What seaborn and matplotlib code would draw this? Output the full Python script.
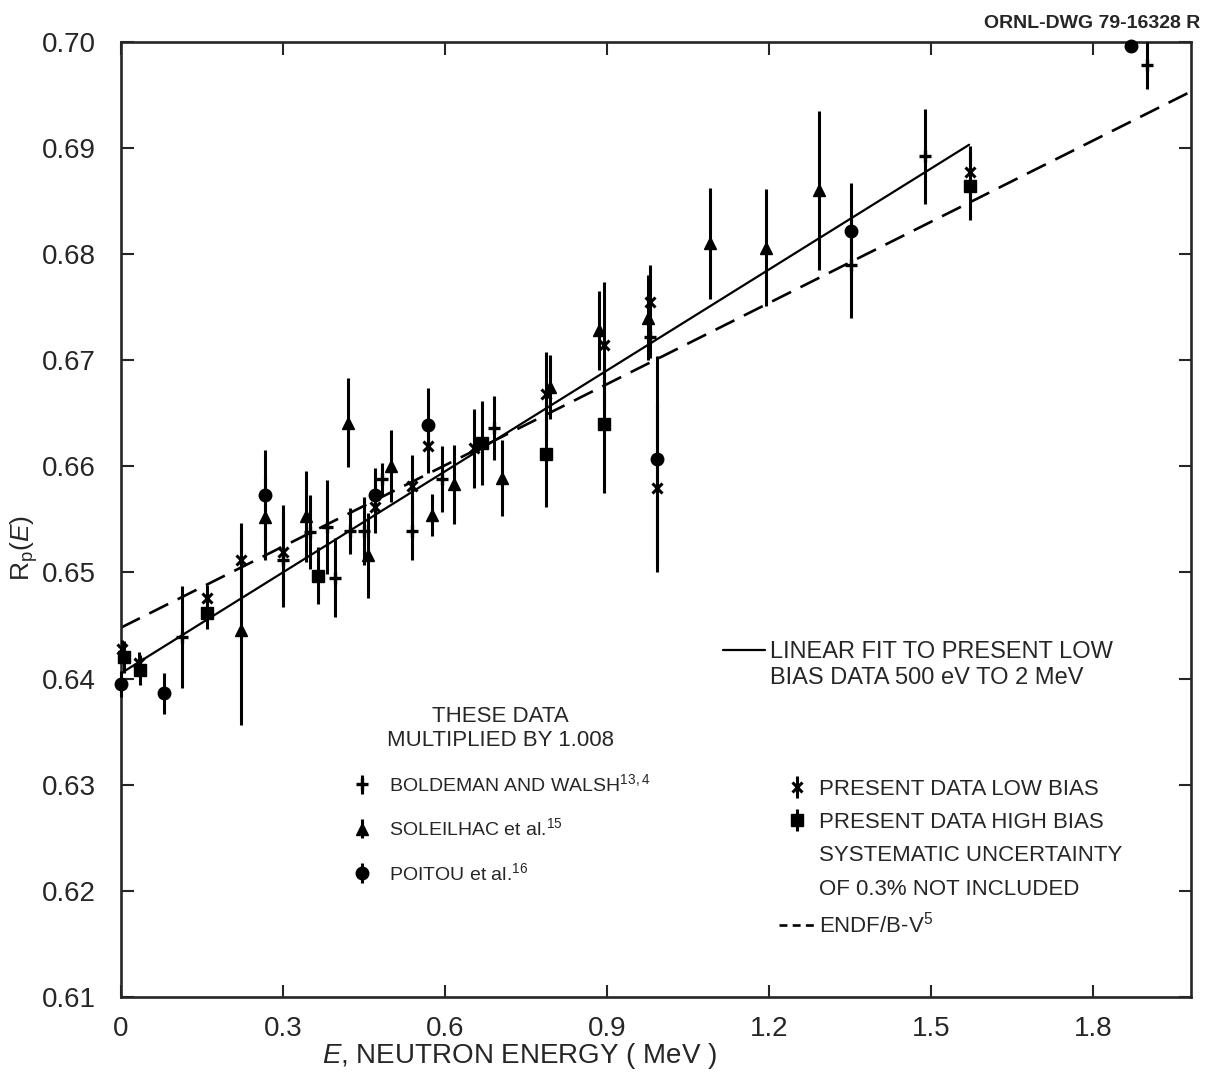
import matplotlib
matplotlib.use("Agg")
import matplotlib.pyplot as plt
from matplotlib.lines import Line2D
import seaborn as sns
import pandas as pd

sns.set_style("ticks")
plt.rcParams["font.family"] = ["Liberation Sans", "DejaVu Sans"]
plt.rcParams["mathtext.fontset"] = "custom"
plt.rcParams["mathtext.rm"] = "Liberation Sans"
plt.rcParams["mathtext.it"] = "Liberation Sans:italic"

# values (E in MeV, Rp, +/- error)
boldeman_e = [0.113, 0.30, 0.35, 0.381, 0.397, 0.423, 0.449, 0.484, 0.538, 0.595, 0.691, 0.98, 1.352, 1.488, 1.90]
boldeman_r = [0.6439, 0.6512, 0.6538, 0.6543, 0.6495, 0.6539, 0.6539, 0.6588, 0.6539, 0.6588, 0.6636, 0.6722, 0.6790, 0.6892, 0.6978]
boldeman_err = [0.0048, 0.0045, 0.0035, 0.0044, 0.0037, 0.0022, 0.0032, 0.0015, 0.0027, 0.0031, 0.0030, 0.0020, 0.0050, 0.0045, 0.0022]

soleilhac_e = [0.222, 0.266, 0.342, 0.42, 0.457, 0.499, 0.575, 0.616, 0.706, 0.795, 0.885, 0.975, 1.091, 1.194, 1.292]
soleilhac_r = [0.6446, 0.6552, 0.6553, 0.6641, 0.6516, 0.6600, 0.6554, 0.6583, 0.6589, 0.6675, 0.6728, 0.6740, 0.6810, 0.6806, 0.6860]
soleilhac_err = [0.0090, 0.0040, 0.0043, 0.0042, 0.0040, 0.0034, 0.0020, 0.0037, 0.0036, 0.0030, 0.0037, 0.0040, 0.0052, 0.0055, 0.0075]

poitou_e = [0.0, 0.08, 0.266, 0.47, 0.569, 0.993, 1.352, 1.87]
poitou_r = [0.6395, 0.6386, 0.6573, 0.6573, 0.6639, 0.6607, 0.6822, 0.6996]
poitou_err = [0.0012, 0.0019, 0.0042, 0.0025, 0.0035, 0.0097, 0.0045, 0.0003]

low_e = [0.002, 0.033, 0.16, 0.222, 0.30, 0.47, 0.538, 0.569, 0.654, 0.787, 0.895, 0.98, 0.993, 1.572]
low_r = [0.6428, 0.6415, 0.6476, 0.6512, 0.6519, 0.6562, 0.6581, 0.6619, 0.6617, 0.6668, 0.6714, 0.6755, 0.6580, 0.6877]
low_err = [0.0008, 0.0010, 0.0012, 0.0035, 0.0045, 0.0025, 0.0030, 0.0025, 0.0037, 0.0040, 0.0060, 0.0035, 0.0080, 0.0025]

high_e = [0.006, 0.035, 0.16, 0.364, 0.669, 0.787, 0.895, 1.572]
high_r = [0.6420, 0.6408, 0.6462, 0.6497, 0.6622, 0.6612, 0.6640, 0.6864]
high_err = [0.0015, 0.0014, 0.0015, 0.0027, 0.0040, 0.0050, 0.0065, 0.0032]

fit_e = [0.0, 1.57]
fit_r = [0.6405, 0.6903]
endf_e = [0.0, 1.98]
endf_r = [0.6448, 0.6953]

xticks = [0, 0.3, 0.6, 0.9, 1.2, 1.5, 1.8]
xtick_labels = ["0", "0.3", "0.6", "0.9", "1.2", "1.5", "1.8"]
yticks = [0.61, 0.62, 0.63, 0.64, 0.65, 0.66, 0.67, 0.68, 0.69, 0.70]
ytick_labels = ["0.61", "0.62", "0.63", "0.64", "0.65", "0.66", "0.67", "0.68", "0.69", "0.70"]

fig = plt.figure(figsize=(12.1, 10.72), dpi=100)
ax = fig.add_axes([0.1, 0.07, 0.884, 0.891])

fit_df = pd.DataFrame({"E": fit_e, "R": fit_r})
endf_df = pd.DataFrame({"E": endf_e, "R": endf_r})
sns.lineplot(data=fit_df, x="E", y="R", ax=ax, color="black", lw=1.6)
sns.lineplot(data=endf_df, x="E", y="R", ax=ax, color="black", lw=1.9,
             dashes=False, linestyle=(0, (8, 4)))

ebkw = dict(ls="none", color="black", ecolor="black", elinewidth=2.2,
            capsize=0, clip_on=False, zorder=3)
h_bold = ax.errorbar(boldeman_e, boldeman_r, yerr=boldeman_err, marker="+",
                     ms=8, mew=2.4, **ebkw)
h_sol = ax.errorbar(soleilhac_e, soleilhac_r, yerr=soleilhac_err, marker="^",
                    ms=8, **ebkw)
h_poi = ax.errorbar(poitou_e, poitou_r, yerr=poitou_err, marker="o",
                    ms=9, **ebkw)
h_low = ax.errorbar(low_e, low_r, yerr=low_err, marker="x",
                    ms=7, mew=2.2, **ebkw)
h_high = ax.errorbar(high_e, high_r, yerr=high_err, marker="s",
                     ms=8, **ebkw)

ax.set_xlim(0, 1.98)
ax.set_ylim(0.61, 0.70)
ax.set_xticks(xticks)
ax.set_xticklabels(xtick_labels)
ax.set_yticks(yticks)
ax.set_yticklabels(ytick_labels)
ax.tick_params(axis="both", direction="in", top=True, right=True,
               length=9, width=1.5, labelsize=20)
ax.tick_params(axis="y", pad=18)
ax.tick_params(axis="x", pad=14)
for s in ax.spines.values():
    s.set_linewidth(1.9)

ax.set_xlabel("$E$, NEUTRON ENERGY ( MeV )", fontsize=20)
ax.xaxis.set_label_coords(0.373, -0.046)
ax.set_ylabel("R$_\\mathrm{p}$($E$)", fontsize=19)
ax.yaxis.set_label_coords(-0.076, 0.47)

fig.text(0.992, 0.978, "ORNL-DWG 79-16328 R", ha="right", va="center",
         fontsize=14, fontweight="bold")

blank = Line2D([], [], ls="none")
lw_fit = Line2D([], [], color="black", lw=1.6)
lw_endf = Line2D([], [], color="black", lw=1.9, ls=(0, (3, 2)))

leg_a = ax.legend([h_bold, h_sol, h_poi],
                  ["BOLDEMAN AND WALSH$^{13,4}$", "SOLEILHAC et al.$^{15}$",
                   "POITOU et al.$^{16}$"],
                  title="THESE DATA\nMULTIPLIED BY 1.008",
                  loc="upper center", bbox_to_anchor=(0.355, 0.315),
                  frameon=False, fontsize=14, title_fontsize=16,
                  handlelength=1.2, handletextpad=0.8, labelspacing=1.15,
                  borderpad=0)
leg_a.get_title().set_multialignment("center")
ax.add_artist(leg_a)

leg_b = ax.legend([h_low, h_high, blank, blank, lw_endf],
                  ["PRESENT DATA LOW BIAS", "PRESENT DATA HIGH BIAS",
                   "SYSTEMATIC UNCERTAINTY", "OF 0.3% NOT INCLUDED",
                   "ENDF/B-V$^{5}$"],
                  loc="upper left", bbox_to_anchor=(0.605, 0.240),
                  frameon=False, fontsize=16, handlelength=1.6,
                  handletextpad=0.2, labelspacing=0.55, borderpad=0)
ax.add_artist(leg_b)

ax.legend([lw_fit, blank],
          ["LINEAR FIT TO PRESENT LOW", "BIAS DATA 500 eV TO 2 MeV"],
          loc="upper left", bbox_to_anchor=(0.5515, 0.385),
          frameon=False, fontsize=17, handlelength=1.8,
          handletextpad=0.2, labelspacing=0.15, borderpad=0)

fig.savefig("out.png", dpi=100)
